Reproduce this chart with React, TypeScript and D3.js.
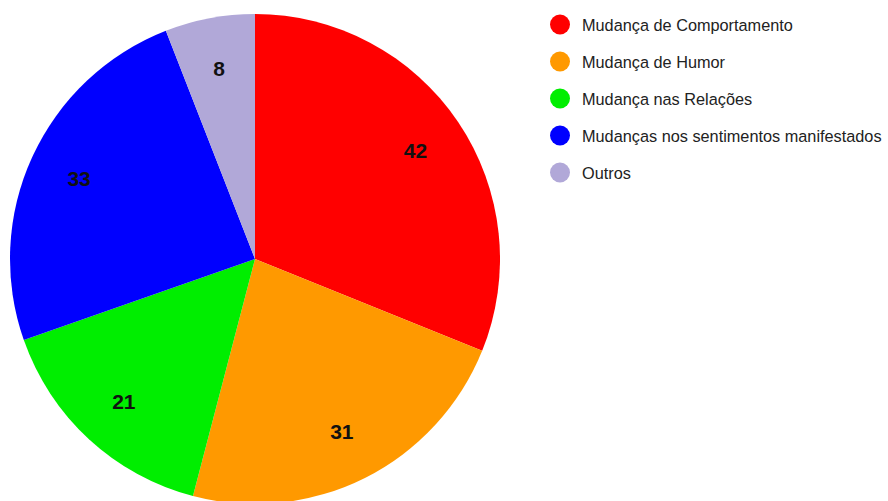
import React from "react";
import * as d3 from "d3";

const categories = [
  "Mudança de Comportamento",
  "Mudança de Humor",
  "Mudança nas Relações",
  "Mudanças nos sentimentos manifestados",
  "Outros",
];
const values = [42, 31, 21, 33, 8];
const colors = ["#ff0000", "#ff9900", "#00ee00", "#0000ff", "#b1a8d8"];

const W = 888;
const H = 501;

export default function App() {
  const cx = 255;
  const cy = 259;
  const r = 245;
  const pie = d3.pie<number>().sort(null).value((d) => d);
  const arcs = pie(values);
  const arc = d3.arc<d3.PieArcDatum<number>>().innerRadius(0).outerRadius(r);
  const labelArc = d3
    .arc<d3.PieArcDatum<number>>()
    .innerRadius(r * 0.79)
    .outerRadius(r * 0.79);
  const legendY = d3.scaleLinear().domain([0, 1]).range([24.5, 61.5]);

  return (
    <svg
      width={W}
      height={H}
      style={{ position: "absolute", left: 0, top: 0, background: "#fff" }}
      fontFamily="'Liberation Sans', Arial, sans-serif"
    >
      <rect width={W} height={H} fill="#fff" />
      <g transform={`translate(${cx},${cy})`}>
        {arcs.map((a, i) => (
          <path key={i} d={arc(a) || ""} fill={colors[i]} />
        ))}
        {arcs.map((a, i) => {
          const [x, y] = labelArc.centroid(a);
          return (
            <text
              key={i}
              x={x}
              y={y}
              textAnchor="middle"
              dominantBaseline="central"
              fontSize={21}
              fontWeight="bold"
              fill="#111"
            >
              {values[i]}
            </text>
          );
        })}
      </g>
      <g>
        {categories.map((c, i) => (
          <g key={i} transform={`translate(560,${legendY(i)})`}>
            <circle r={10} fill={colors[i]} />
            <text
              x={22}
              y={0}
              dominantBaseline="central"
              fontSize={16.3}
              fill="#222"
            >
              {c}
            </text>
          </g>
        ))}
      </g>
    </svg>
  );
}
